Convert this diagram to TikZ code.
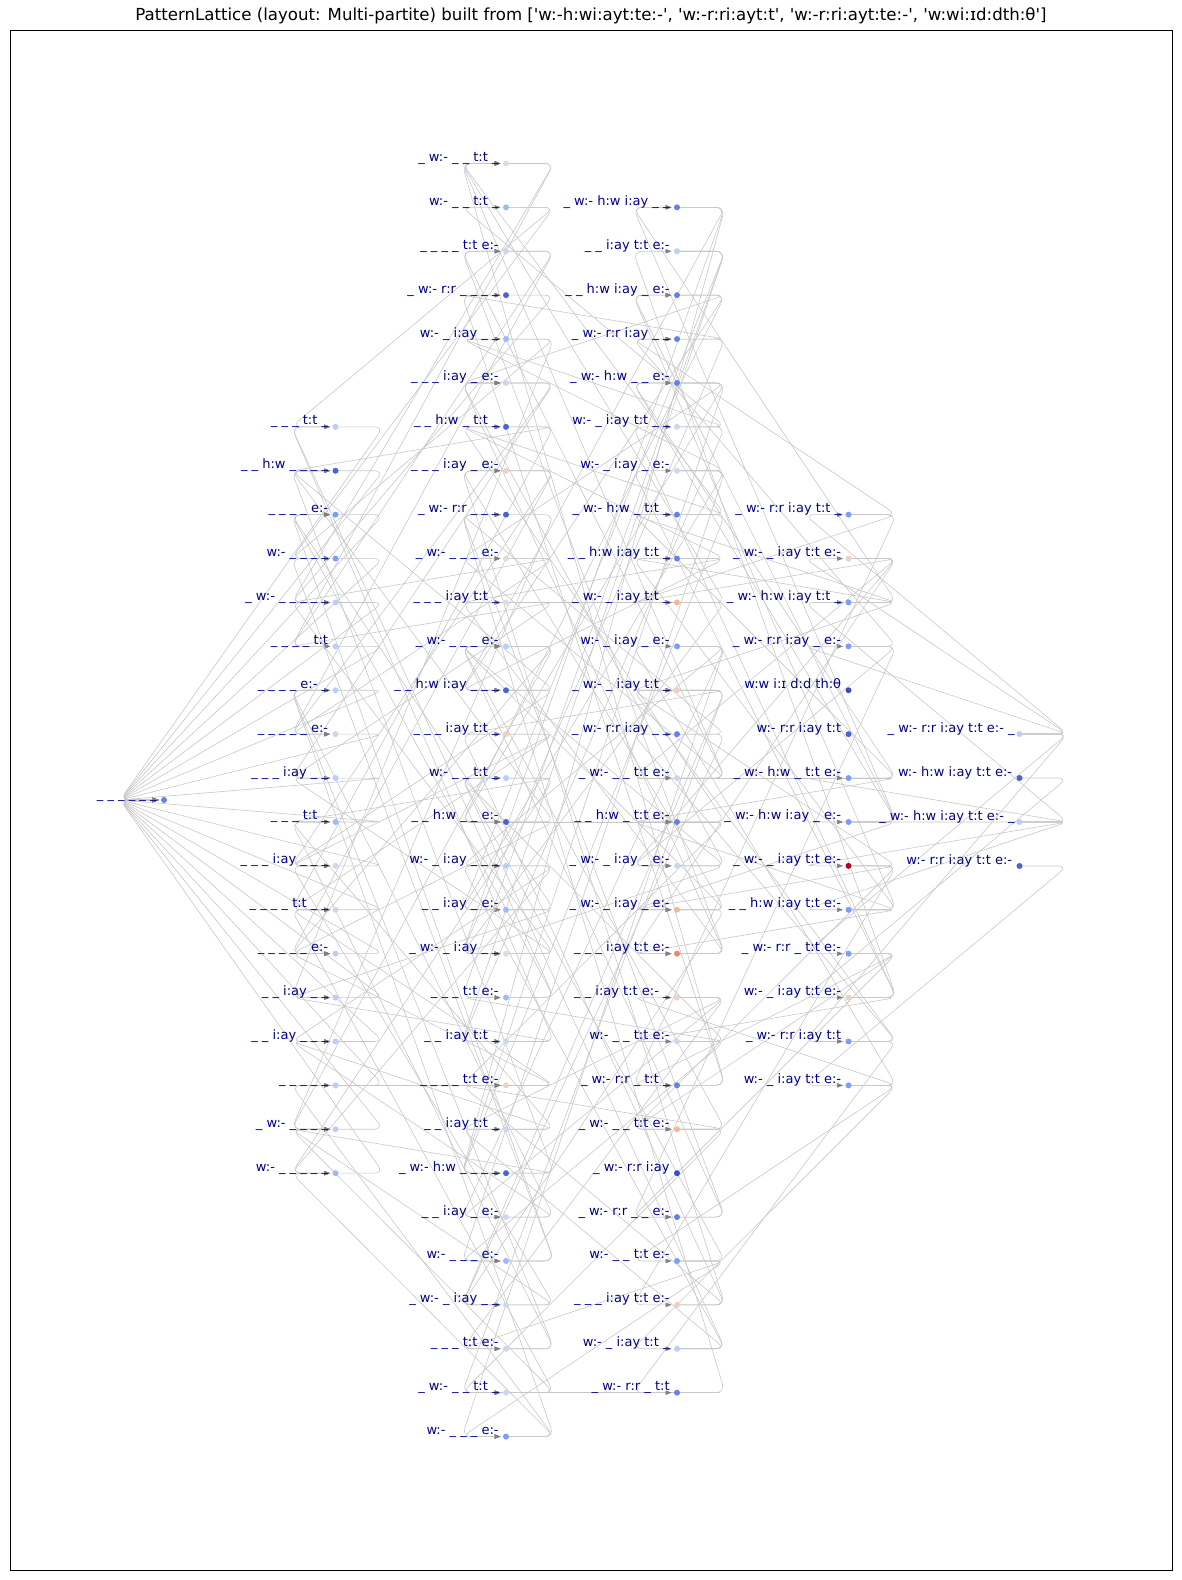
\documentclass[tikz,border=0pt]{standalone}
\usepackage{fontspec}
\newfontfamily\dvsans{DejaVu Sans}
\usetikzlibrary{arrows.meta,backgrounds}

\definecolor{labblue}{HTML}{00008B}
\definecolor{cwA}{HTML}{3B4CC0}
\definecolor{cwB}{HTML}{4A63D3}
\definecolor{cwC}{HTML}{6282EA}
\definecolor{cwD}{HTML}{7B9FF9}
\definecolor{cwE}{HTML}{9ABBFF}
\definecolor{cwF}{HTML}{B7CFF9}
\definecolor{cwG}{HTML}{CAD8EF}
\definecolor{cwH}{HTML}{DCDDDD}
\definecolor{cwI}{HTML}{EDD1C2}
\definecolor{cwJ}{HTML}{F5B59A}
\definecolor{cwL}{HTML}{EE8468}
\definecolor{cwM}{HTML}{B40426}

\tikzset{
  dot/.style={circle, inner sep=0pt, minimum size=3pt, draw=none},
  lab/.style={font=\dvsans\fontsize{6.5pt}{7pt}\selectfont, text=labblue, anchor=base east, inner sep=0pt},
  edge/.style={draw=black!22, line width=0.3pt, rounded corners=4.5pt, shorten >=1pt,
    -{Triangle[length=3pt,width=2.2pt,color=black!50]}}
}

\begin{document}
\begin{tikzpicture}[x=0.5pt,y=-0.5pt]
\useasboundingbox (0,0) rectangle (1182,1580);
\node[font=\dvsans\fontsize{8.3pt}{9pt}\selectfont] (title) at (591,16) {PatternLattice (layout: Multi-partite) built from ['w:-h:wi:ayt:te:-', 'w:-r:ri:ayt:t', 'w:-r:ri:ayt:te:-', 'w:wi:ɪd:dth:θ']};
\draw[line width=0.5pt] (10,30) rectangle (1172,1570);

\node[lab] at (157,798) {\_ \_ \_ \_ \_ \_};
\node[dot, fill=cwC] (root) at (164,800) {};

\foreach \lab/\clr [count=\n] in {
  {\_ \_ \_ t:t \_}/cwF, {\_ \_ h:w \_ \_ \_ \_}/cwB, {\_ \_ \_ \_ e:-}/cwD, {w:- \_ \_ \_ \_}/cwD,
  {\_ w:- \_ \_ \_ \_ \_}/cwF, {\_ \_ \_ \_ t:t}/cwF, {\_ \_ \_ \_ e:- \_}/cwF, {\_ \_ \_ \_ \_ e:-}/cwG,
  {\_ \_ \_ i:ay \_ \_}/cwF, {\_ \_ \_ t:t \_}/cwE, {\_ \_ \_ i:ay \_ \_ \_}/cwG, {\_ \_ \_ \_ t:t \_ \_}/cwG,
  {\_ \_ \_ \_ \_ e:-}/cwF, {\_ \_ i:ay \_ \_}/cwF, {\_ \_ i:ay \_ \_ \_}/cwF, {\_ \_ \_ \_ \_}/cwF,
  {\_ w:- \_ \_ \_ \_}/cwF, {w:- \_ \_ \_ \_ \_}/cwE}{
  \pgfmathsetmacro{\yy}{800+43.9*(\n-9.5)}
  \node[lab] at (328.5,\yy-2) {\lab};
  \node[dot, fill=\clr] (a\n) at (335.5,\yy) {};
}

\foreach \lab/\clr [count=\n] in {
  {\_ w:- \_ \_ t:t \_}/cwH, {w:- \_ \_ t:t \_}/cwE, {\_ \_ \_ \_ t:t e:-}/cwG, {\_ w:- r:r \_ \_ \_ \_}/cwB,
  {w:- \_ i:ay \_ \_}/cwE, {\_ \_ \_ i:ay \_ e:-}/cwG, {\_ \_ h:w \_ t:t \_}/cwB, {\_ \_ \_ i:ay \_ e:-}/cwI,
  {\_ w:- r:r \_ \_ \_}/cwB, {\_ w:- \_ \_ \_ e:-}/cwH, {\_ \_ \_ i:ay t:t \_}/cwH, {\_ w:- \_ \_ \_ e:-}/cwF,
  {\_ \_ h:w i:ay \_ \_ \_}/cwB, {\_ \_ \_ i:ay t:t \_}/cwI, {w:- \_ \_ t:t \_}/cwF, {\_ \_ h:w \_ \_ e:-}/cwB,
  {w:- \_ i:ay \_ \_ \_}/cwF, {\_ \_ i:ay \_ e:-}/cwE, {\_ w:- \_ i:ay \_ \_}/cwH, {\_ \_ \_ t:t e:-}/cwE,
  {\_ \_ i:ay t:t \_}/cwG, {\_ \_ \_ \_ t:t e:-}/cwI, {\_ \_ i:ay t:t \_}/cwG, {\_ w:- h:w \_ \_ \_ \_}/cwB,
  {\_ \_ i:ay \_ e:-}/cwG, {w:- \_ \_ \_ e:-}/cwE, {\_ w:- \_ i:ay \_ \_}/cwG, {\_ \_ \_ t:t e:-}/cwG,
  {\_ w:- \_ \_ t:t \_}/cwG, {w:- \_ \_ \_ e:-}/cwD}{
  \pgfmathsetmacro{\yy}{800+43.9*(\n-15.5)}
  \node[lab] at (499,\yy-2) {\lab};
  \node[dot, fill=\clr] (b\n) at (506,\yy) {};
}

\foreach \lab/\clr [count=\n] in {
  {\_ w:- h:w i:ay \_ \_}/cwC, {\_ \_ i:ay t:t e:-}/cwF, {\_ \_ h:w i:ay \_ e:-}/cwC, {\_ w:- r:r i:ay \_ \_}/cwC,
  {\_ w:- h:w \_ \_ e:-}/cwC, {w:- \_ i:ay t:t \_ \_}/cwG, {w:- \_ i:ay \_ e:-}/cwG, {\_ w:- h:w \_ t:t \_}/cwC,
  {\_ \_ h:w i:ay t:t \_}/cwC, {\_ w:- \_ i:ay t:t \_}/cwJ, {w:- \_ i:ay \_ e:-}/cwD, {\_ w:- \_ i:ay t:t \_}/cwI,
  {\_ w:- r:r i:ay \_ \_}/cwC, {\_ w:- \_ \_ t:t e:-}/cwG, {\_ \_ h:w \_ t:t e:-}/cwC, {\_ w:- \_ i:ay \_ e:-}/cwG,
  {\_ w:- \_ i:ay \_ e:-}/cwJ, {\_ \_ \_ i:ay t:t e:-}/cwL, {\_ \_ i:ay t:t e:- \_}/cwI, {w:- \_ \_ t:t e:-}/cwG,
  {\_ w:- r:r \_ t:t \_}/cwC, {\_ w:- \_ \_ t:t e:-}/cwJ, {\_ w:- r:r i:ay}/cwA, {\_ w:- r:r \_ \_ e:-}/cwC,
  {w:- \_ \_ t:t e:-}/cwD, {\_ \_ \_ i:ay t:t e:-}/cwI, {w:- \_ i:ay t:t \_}/cwF, {\_ w:- r:r \_ t:t}/cwC}{
  \pgfmathsetmacro{\yy}{800+43.9*(\n-14.5)}
  \node[lab] at (670,\yy-2) {\lab};
  \node[dot, fill=\clr] (c\n) at (677,\yy) {};
}

\foreach \lab/\clr [count=\n] in {
  {\_ w:- r:r i:ay t:t \_}/cwD, {\_ w:- \_ i:ay t:t e:-}/cwI, {\_ w:- h:w i:ay t:t \_}/cwD, {\_ w:- r:r i:ay \_ e:-}/cwD,
  {w:w i:ɪ d:d th:θ}/cwA, {w:- r:r i:ay t:t}/cwB, {\_ w:- h:w \_ t:t e:-}/cwD, {\_ w:- h:w i:ay \_ e:-}/cwD,
  {\_ w:- \_ i:ay t:t e:-}/cwM, {\_ \_ h:w i:ay t:t e:-}/cwD, {\_ w:- r:r \_ t:t e:-}/cwD, {w:- \_ i:ay t:t e:-}/cwI,
  {\_ w:- r:r i:ay t:t}/cwD, {w:- \_ i:ay t:t e:-}/cwD}{
  \pgfmathsetmacro{\yy}{800+43.9*(\n-7.5)}
  \node[lab] at (841.5,\yy-2) {\lab};
  \node[dot, fill=\clr] (d\n) at (848.5,\yy) {};
}

\node[lab] at (1015,732) {\_ w:- r:r i:ay t:t e:- \_};
\node[dot, fill=cwF] (e1) at (1019.5,734) {};
\node[lab] at (1012.5,776) {w:- h:w i:ay t:t e:-};
\node[dot, fill=cwB] (e2) at (1019.5,778) {};
\node[lab] at (1015,820) {\_ w:- h:w i:ay t:t e:- \_};
\node[dot, fill=cwF] (e3) at (1019.5,822) {};
\node[lab] at (1012.5,864) {w:- r:r i:ay t:t e:-};
\node[dot, fill=cwB] (e4) at (1019.5,866) {};

\begin{pgfonlayer}{background}
\foreach \n in {1,...,18}
  \draw[edge] (a\n.center) -- ([xshift=24pt]a\n.center) -- ([xshift=-22pt]root.center) -- (root);
\foreach \u/\v in {b1/a6, b1/a5, b2/a1, b2/a4, b3/a8, b3/a6, b4/a5, b5/a14, b5/a4, b6/a8, b6/a9,
  b7/a12, b7/a2, b8/a13, b8/a11, b9/a17, b10/a8, b10/a5, b11/a6, b11/a9, b12/a13, b12/a17,
  b13/a11, b13/a2, b14/a12, b14/a11, b15/a10, b15/a18, b16/a13, b16/a2, b17/a15, b17/a18,
  b18/a3, b18/a14, b19/a9, b19/a5, b20/a3, b20/a1, b21/a1, b21/a14, b22/a13, b22/a12, b22/a16,
  b23/a10, b23/a15, b24/a2, b24/a17, b25/a7, b25/a15, b26/a3, b26/a4, b27/a11, b27/a17,
  b28/a7, b28/a10, b29/a12, b29/a17, b30/a7, b30/a18, b30/a16,
  c1/b13, c1/b19, c1/b24, c2/b20, c2/b18, c2/b21, c3/b6, c3/b16, c3/b13, c4/b19, c4/b4,
  c5/b16, c5/b10, c5/b24, c6/b21, c6/b2, c6/b5, c7/b18, c7/b26, c7/b5, c8/b7, c8/b1, c8/b24,
  c9/b11, c9/b7, c9/b13, c10/b11, c10/b1, c10/b19, c11/b25, c11/b30, c11/b17, c12/b14, c12/b29,
  c12/b27, c13/b27, c13/b9, c14/b3, c14/b10, c14/b1, c15/b22, c15/b16, c15/b7, c16/b6, c16/b12,
  c16/b19, c17/b8, c17/b12, c17/b27, c18/b3, c18/b6, c18/b11, c19/b28, c19/b25, c19/b23,
  c20/b20, c20/b26, c20/b15, c21/b1, c21/b4, c22/b22, c22/b12, c22/b29, c24/b12, c24/b9,
  c25/b28, c25/b30, c25/b15, c26/b22, c26/b8, c26/b14, c27/b23, c27/b17, c27/b15, c28/b29, c28/b9,
  d1/c10, d1/c21, d1/c4, d2/c18, d2/c14, d2/c16, d2/c10, d3/c9, d3/c12, d3/c8, d3/c1,
  d4/c16, d4/c24, d4/c4, d7/c15, d7/c14, d7/c5, d7/c8, d8/c3, d8/c17, d8/c5, d8/c1,
  d9/c26, d9/c22, d9/c17, d9/c12, d10/c18, d10/c15, d10/c3, d10/c9, d11/c22, d11/c24, d11/c21,
  d12/c2, d12/c20, d12/c7, d12/c6, d13/c12, d13/c28, d13/c13, d14/c19, d14/c25, d14/c11, d14/c27,
  e1/d2, e1/d11, e1/d4, e1/d1, e1/d13, e2/d12, e3/d10, e3/d9, e3/d7, e3/d8, e3/d3, e4/d14}
  \draw[edge] (\u.center) -- ([xshift=24pt]\u.center) -- ([xshift=-22pt]\v.center) -- (\v);
\end{pgfonlayer}
\end{tikzpicture}
\end{document}
